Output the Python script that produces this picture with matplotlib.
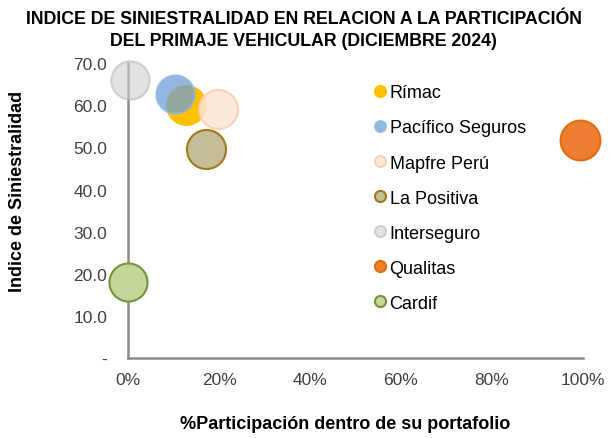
import matplotlib.pyplot as plt
from matplotlib.lines import Line2D
from matplotlib.ticker import FuncFormatter

plt.rcParams['font.family'] = ['Liberation Sans', 'DejaVu Sans']

# datos
empresas = ["Rímac", "Pacífico Seguros", "Mapfre Perú", "La Positiva",
            "Interseguro", "Qualitas", "Cardif"]
participacion = [0.127, 0.103, 0.198, 0.171, 0.005, 0.993, 0.0]
siniestralidad = [60.0, 62.6, 59.1, 49.6, 66.0, 51.8, 18.0]
tamanos = [780, 760, 790, 790, 760, 820, 750]

relleno = ["#FFC000", "#6F9FD8", "#FDE4D4", "#C4BD97", "#CFCFCF", "#ED7D31", "#C4D79B"]
borde = ["#FFC000", "#8EB4E3", "#F9CBAD", "#A07A1A", "#B8B8B8", "#E36C0A", "#76923C"]
alfas = [1.0, 0.75, 0.85, 1.0, 0.6, 1.0, 1.0]

fig = plt.figure(figsize=(6.16, 4.39), dpi=100)
ax = fig.add_axes([0.208, 0.182, 0.738, 0.672])

for i in range(len(empresas)):
    ax.scatter(participacion[i], siniestralidad[i], s=tamanos[i], c=relleno[i],
               edgecolors=borde[i], linewidths=1.5, alpha=alfas[i], zorder=3,
               clip_on=False)

ax.set_xlim(0, 1)
ax.set_ylim(0, 70)
ax.set_xticks([0, 0.2, 0.4, 0.6, 0.8, 1.0])
ax.set_yticks(range(0, 71, 10))
ax.xaxis.set_major_formatter(FuncFormatter(lambda v, p: "%d%%" % round(v * 100)))
ax.yaxis.set_major_formatter(FuncFormatter(lambda v, p: "-" if v == 0 else "%.1f" % v))
ax.tick_params(length=0, labelsize=12.5, colors="#404040")
ax.tick_params(axis="y", pad=15)
ax.tick_params(axis="x", pad=10)

for s in ["top", "right"]:
    ax.spines[s].set_visible(False)
for s in ["left", "bottom"]:
    ax.spines[s].set_color("#8C8C8C")
    ax.spines[s].set_linewidth(1.8)
    ax.spines[s].set_zorder(2.5)

handles = []
for i in range(len(empresas)):
    handles.append(Line2D([], [], linestyle="none", marker="o", markersize=8,
                          markerfacecolor=relleno[i], markeredgecolor=borde[i],
                          markeredgewidth=1.5, alpha=alfas[i], label=empresas[i]))
fig.legend(handles=handles, loc="upper left", bbox_to_anchor=(0.587, 0.826),
           frameon=False, fontsize=13, labelspacing=1.0, handletextpad=0.05,
           handlelength=1.0, borderpad=0)

fig.text(0.493, 0.975, "INDICE DE SINIESTRALIDAD EN RELACION A LA PARTICIPACIÓN\n"
         "DEL PRIMAJE VEHICULAR (DICIEMBRE 2024)", ha="center", va="top",
         fontsize=12.8, fontweight="bold", linespacing=1.4)
fig.text(0.56, 0.032, "%Participación dentro de su portafolio", ha="center",
         va="center", fontsize=13, fontweight="bold")
fig.text(0.029, 0.563, "Indice de Siniestralidad", ha="center", va="center",
         rotation=90, fontsize=13, fontweight="bold")

fig.savefig("out.png", dpi=100)
